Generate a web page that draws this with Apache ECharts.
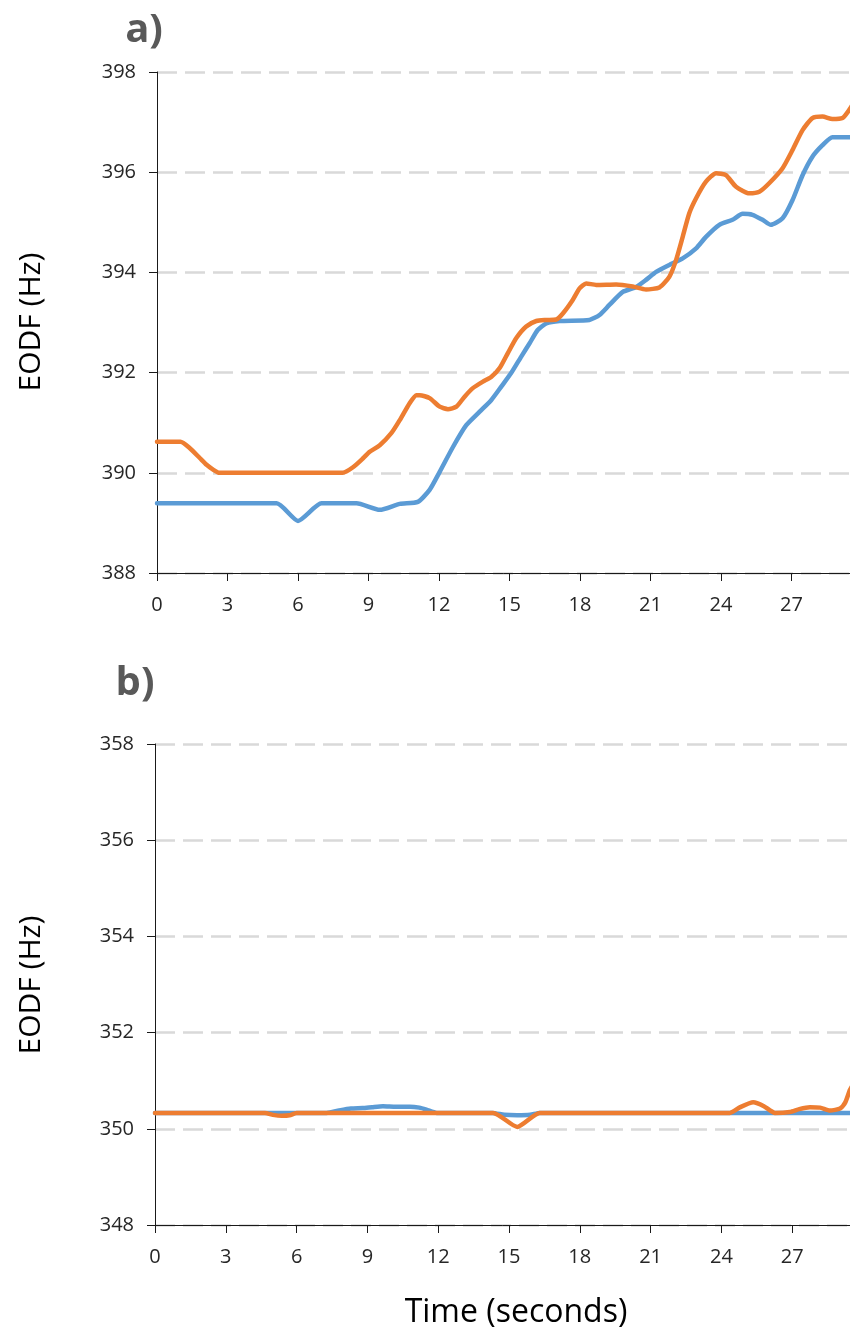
<!DOCTYPE html>
<html>
<head>
<meta charset="utf-8">
<script src="https://cdn.jsdelivr.net/npm/echarts@6/dist/echarts.min.js"></script>
<style>
  html, body { margin: 0; padding: 0; background: #ffffff; }
  #chart { width: 850px; height: 1336px; }
</style>
</head>
<body>
<div id="chart"></div>
<script>
// Panel a: EODF over time, [seconds, Hz]
const panelABlue = [
  [0, 389.39], [5.09, 389.39], [6.0, 389.04], [7.0, 389.39], [8.49, 389.39],
  [9.48, 389.26], [10.33, 389.38], [11.1, 389.42], [11.6, 389.66], [12.03, 390.02],
  [12.6, 390.52], [13.16, 390.95], [13.73, 391.22], [14.22, 391.45], [14.65, 391.72],
  [15.07, 391.99], [15.5, 392.32], [15.85, 392.58], [16.2, 392.85], [16.56, 392.98],
  [17.13, 393.03], [18.4, 393.05], [18.83, 393.15], [19.25, 393.35], [19.82, 393.61],
  [20.39, 393.71], [20.81, 393.85], [21.24, 394.01], [21.8, 394.15], [22.37, 394.28],
  [22.94, 394.48], [23.36, 394.71], [23.93, 394.95], [24.49, 395.05], [24.92, 395.17],
  [25.34, 395.15], [25.77, 395.05], [26.12, 394.95], [26.62, 395.08], [27.04, 395.44],
  [27.47, 395.94], [27.89, 396.31], [28.32, 396.54], [28.74, 396.70], [29.8, 396.70]
];
const panelAOrange = [
  [0, 390.62], [1.0, 390.62], [1.4, 390.49], [1.83, 390.29], [2.11, 390.16],
  [2.4, 390.06], [2.65, 390.0], [7.9, 390.0], [8.34, 390.11], [8.77, 390.29],
  [9.05, 390.42], [9.48, 390.55], [9.97, 390.79], [10.33, 391.05], [10.75, 391.39],
  [11.04, 391.55], [11.18, 391.55], [11.6, 391.49], [12.03, 391.32], [12.38, 391.27],
  [12.74, 391.32], [13.09, 391.52], [13.44, 391.69], [13.87, 391.82], [14.22, 391.91],
  [14.58, 392.09], [14.93, 392.39], [15.29, 392.69], [15.71, 392.92], [16.14, 393.03],
  [16.56, 393.05], [16.99, 393.06], [17.27, 393.18], [17.69, 393.45], [17.98, 393.68],
  [18.26, 393.78], [18.69, 393.75], [19.54, 393.76], [20.24, 393.72], [20.81, 393.66],
  [21.38, 393.70], [21.8, 393.91], [22.09, 394.25], [22.37, 394.71], [22.65, 395.18],
  [22.94, 395.48], [23.36, 395.81], [23.79, 395.98], [24.21, 395.94], [24.64, 395.71],
  [25.2, 395.58], [25.63, 395.61], [26.05, 395.78], [26.62, 396.08], [27.04, 396.44],
  [27.47, 396.84], [27.89, 397.08], [28.32, 397.11], [28.74, 397.06], [29.17, 397.08],
  [29.45, 397.24], [29.8, 397.5]
];

// Panel b: EODF over time, [seconds, Hz]
const panelBBlue = [
  [0, 350.33], [7.27, 350.33], [7.8, 350.38], [8.3, 350.42], [8.8, 350.43],
  [9.2, 350.45], [9.66, 350.47], [10.2, 350.46], [10.8, 350.46], [11.2, 350.44],
  [11.5, 350.40], [11.94, 350.33], [14.3, 350.33], [14.8, 350.29], [15.35, 350.28],
  [15.9, 350.29], [16.3, 350.33], [29.8, 350.33]
];
const panelBOrange = [
  [0, 350.33], [4.66, 350.33], [5.0, 350.29], [5.37, 350.27], [5.7, 350.28],
  [6.0, 350.33], [14.33, 350.33], [15.35, 350.04], [16.3, 350.33], [24.36, 350.33],
  [24.8, 350.45], [25.35, 350.55], [25.8, 350.47], [26.27, 350.33], [26.9, 350.35],
  [27.3, 350.41], [27.75, 350.45], [28.18, 350.44], [28.6, 350.38], [29.03, 350.42],
  [29.25, 350.55], [29.45, 350.81], [29.8, 351.1]
];

// Axis ranges
const timeRange = { min: 0, max: 30, interval: 3 };
const panelARange = { min: 388, max: 398, interval: 2 };
const panelBRange = { min: 348, max: 358, interval: 2 };

const FONT = '"Open Sans", "Noto Sans", sans-serif';
const BLUE = '#5B9BD5';
const ORANGE = '#ED7D31';

function xAxisFor(gridIndex) {
  return {
    type: 'value', gridIndex,
    min: timeRange.min, max: timeRange.max, interval: timeRange.interval,
    axisLine: { lineStyle: { color: '#1a1a1a', width: 1 } },
    axisTick: { show: true, length: 8, lineStyle: { color: '#1a1a1a', width: 1 } },
    axisLabel: { margin: 22, fontSize: 20, color: '#262626', fontFamily: FONT, showMaxLabel: false },
    splitLine: { show: false }
  };
}
function yAxisFor(gridIndex, range) {
  return {
    type: 'value', gridIndex,
    min: range.min, max: range.max, interval: range.interval,
    axisLine: { show: true, lineStyle: { color: '#1a1a1a', width: 1 } },
    axisTick: { show: true, length: 8, lineStyle: { color: '#1a1a1a', width: 1 } },
    axisLabel: { margin: 21, fontSize: 20, color: '#262626', fontFamily: FONT },
    splitLine: { show: true, lineStyle: { color: '#d9d9d9', width: 2.5, type: [20, 8] } }
  };
}
function lineSeries(name, data, color, idx) {
  return {
    name, type: 'line', data,
    xAxisIndex: idx, yAxisIndex: idx,
    showSymbol: false, smooth: 0.2,
    lineStyle: { color, width: 4.5, cap: 'round', join: 'round' },
    itemStyle: { color },
    animation: false
  };
}

const chart = echarts.init(document.getElementById('chart'), null, { renderer: 'canvas' });
chart.setOption({
  backgroundColor: '#ffffff',
  animation: false,
  // the time axis runs on to 30 s, past the right edge of the page
  grid: [
    { left: 157, top: 72, width: 705, height: 501, outerBoundsMode: 'none', containLabel: false },
    { left: 155, top: 744, width: 708, height: 481, outerBoundsMode: 'none', containLabel: false }
  ],
  xAxis: [xAxisFor(0), xAxisFor(1)],
  yAxis: [yAxisFor(0, panelARange), yAxisFor(1, panelBRange)],
  series: [
    lineSeries('Trace 1', panelABlue, BLUE, 0),
    lineSeries('Trace 2', panelAOrange, ORANGE, 0),
    lineSeries('Trace 1', panelBBlue, BLUE, 1),
    lineSeries('Trace 2', panelBOrange, ORANGE, 1)
  ],
  graphic: [
    { type: 'text', x: 144, y: 31, style: { text: 'a)', font: 'bold 40px ' + FONT, fill: '#595959', align: 'center', verticalAlign: 'middle' } },
    { type: 'text', x: 135, y: 684, style: { text: 'b)', font: 'bold 40px ' + FONT, fill: '#595959', align: 'center', verticalAlign: 'middle' } },
    { type: 'text', x: 31, y: 322, rotation: Math.PI / 2, style: { text: 'EODF (Hz)', font: '30px ' + FONT, fill: '#000000', align: 'center', verticalAlign: 'middle' } },
    { type: 'text', x: 31, y: 985, rotation: Math.PI / 2, style: { text: 'EODF (Hz)', font: '30px ' + FONT, fill: '#000000', align: 'center', verticalAlign: 'middle' } },
    { type: 'text', x: 516, y: 1313, style: { text: 'Time (seconds)', font: '32px ' + FONT, fill: '#000000', align: 'center', verticalAlign: 'middle' } }
  ]
});
</script>
</body>
</html>
